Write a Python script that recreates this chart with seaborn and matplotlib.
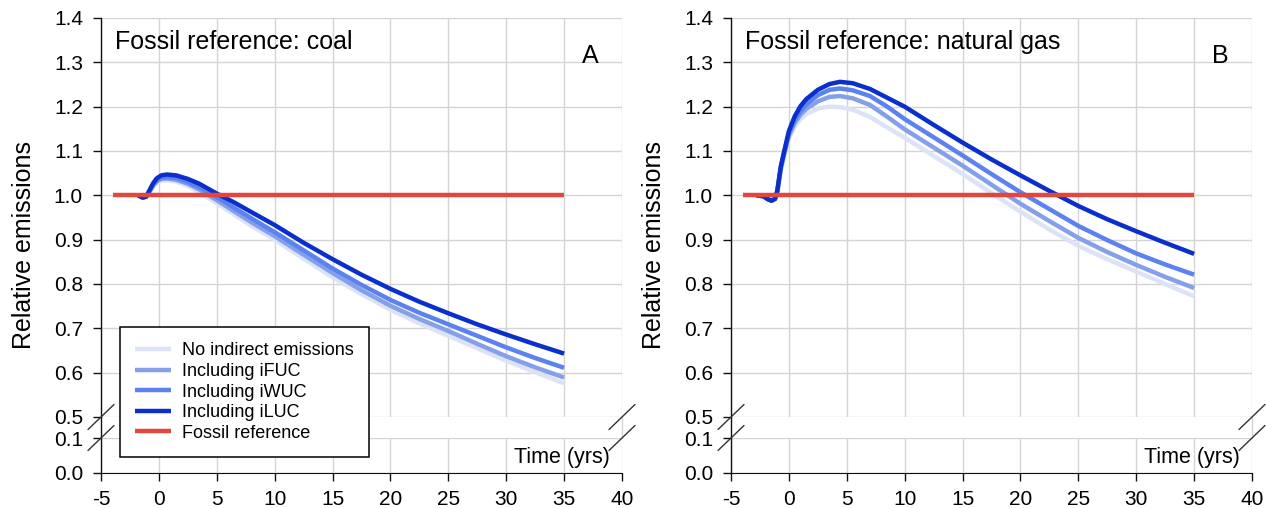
import numpy as np
import pandas as pd
import matplotlib
matplotlib.use("Agg")
import matplotlib.pyplot as plt
from matplotlib.lines import Line2D
import seaborn as sns

# ---------------------------------------------------------------- data
series_order = ["No indirect emissions", "Including iFUC", "Including iWUC",
                "Including iLUC", "Fossil reference"]

# Panel A: coal as the fossil reference
years_coal = [-1.8, -1.4, -1.1, -0.8, -0.5, -0.2, 0.2, 0.7, 1.5, 2.5, 3.5, 5,
              6.5, 8, 10, 12.5, 15, 17.5, 20, 22.5, 25, 27.5, 30, 32.5, 35]
coal_none = [1.000, 0.995, 0.997, 1.008, 1.020, 1.028, 1.033, 1.034, 1.031,
             1.021, 1.007, 0.982, 0.957, 0.931, 0.900, 0.857, 0.815, 0.777,
             0.742, 0.711, 0.683, 0.655, 0.627, 0.601, 0.576]
coal_ifuc = [1.000, 0.995, 0.997, 1.009, 1.022, 1.031, 1.037, 1.038, 1.035,
             1.026, 1.013, 0.989, 0.964, 0.939, 0.908, 0.866, 0.825, 0.786,
             0.751, 0.721, 0.694, 0.665, 0.637, 0.612, 0.589]
coal_iwuc = [1.000, 0.995, 0.997, 1.010, 1.024, 1.034, 1.040, 1.041, 1.039,
             1.030, 1.018, 0.996, 0.972, 0.948, 0.917, 0.876, 0.835, 0.798,
             0.764, 0.735, 0.709, 0.683, 0.657, 0.633, 0.611]
coal_iluc = [1.000, 0.995, 0.997, 1.012, 1.027, 1.038, 1.045, 1.047, 1.045,
             1.037, 1.026, 1.004, 0.984, 0.962, 0.933, 0.893, 0.856, 0.821,
             0.789, 0.760, 0.734, 0.709, 0.686, 0.664, 0.643]

# Panel B: natural gas as the fossil reference
years_gas = [-2.8, -2.2, -1.8, -1.5, -1.2, -1.0, -0.7, -0.4, 0, 0.5, 1, 1.5,
             2.5, 3.5, 4.4, 5.5, 7, 8.5, 10, 12.5, 15, 17.5, 20, 22.5, 25,
             27.5, 30, 32.5, 35]
gas_none = [1.000, 0.998, 0.991, 0.988, 0.992, 1.008, 1.055, 1.090, 1.128,
            1.155, 1.172, 1.183, 1.196, 1.200, 1.199, 1.193, 1.177, 1.153,
            1.130, 1.089, 1.048, 1.005, 0.963, 0.923, 0.886, 0.856, 0.828,
            0.800, 0.772]
gas_ifuc = [1.000, 0.998, 0.991, 0.988, 0.992, 1.009, 1.060, 1.094, 1.135,
            1.163, 1.182, 1.195, 1.212, 1.222, 1.224, 1.219, 1.204, 1.177,
            1.149, 1.108, 1.067, 1.024, 0.981, 0.942, 0.904, 0.872, 0.843,
            0.816, 0.791]
gas_iwuc = [1.000, 0.998, 0.991, 0.988, 0.992, 1.010, 1.063, 1.097, 1.140,
            1.170, 1.190, 1.205, 1.226, 1.238, 1.241, 1.237, 1.224, 1.200,
            1.172, 1.131, 1.090, 1.048, 1.007, 0.969, 0.931, 0.899, 0.869,
            0.844, 0.821]
gas_iluc = [1.000, 0.998, 0.991, 0.988, 0.992, 1.010, 1.065, 1.100, 1.145,
            1.178, 1.201, 1.217, 1.238, 1.251, 1.256, 1.253, 1.240, 1.220,
            1.200, 1.159, 1.119, 1.081, 1.045, 1.010, 0.976, 0.946, 0.919,
            0.893, 0.868]

fossil_years = [-4, 35]
fossil_level = [1.0, 1.0]

x_ticks = list(range(-5, 41, 5))
y_ticks_upper = [0.5, 0.6, 0.7, 0.8, 0.9, 1.0, 1.1, 1.2, 1.3, 1.4]
y_ticks_lower = [0.0, 0.1]

palette = {
    "No indirect emissions": "#dde3f7",
    "Including iFUC": "#84a0ea",
    "Including iWUC": "#5b82ee",
    "Including iLUC": "#0a2fcc",
    "Fossil reference": "#e2463c",
}


def build_frame(years, curves):
    rows = []
    for name, values in zip(series_order[:4], curves):
        for x, y in zip(years, values):
            rows.append({"year": x, "value": y, "series": name})
    for x, y in zip(fossil_years, fossil_level):
        rows.append({"year": x, "value": y, "series": series_order[4]})
    return pd.DataFrame(rows)


frame_coal = build_frame(years_coal, [coal_none, coal_ifuc, coal_iwuc, coal_iluc])
frame_gas = build_frame(years_gas, [gas_none, gas_ifuc, gas_iwuc, gas_iluc])

# ---------------------------------------------------------------- style
sns.set_style("white")
plt.rcParams["font.family"] = ["Liberation Sans", "DejaVu Sans"]
plt.rcParams["text.color"] = "black"
plt.rcParams["axes.labelcolor"] = "black"
plt.rcParams["xtick.color"] = "black"
plt.rcParams["ytick.color"] = "black"

W, H = 1266, 508
fig = plt.figure(figsize=(W / 100, H / 100), dpi=100)

grid_color = "#d4d4d4"
axis_color = "#111111"


def px_rect(left, right, top, bottom):
    return [left / W, 1 - bottom / H, (right - left) / W, (bottom - top) / H]


def break_mark(xc, yc):
    dx, dy = 13 / W, 12.5 / H
    fig.add_artist(Line2D([xc - dx, xc + dx], [yc - dy, yc + dy],
                          transform=fig.transFigure, color="#333333", lw=1))


def draw_panel(left, title, letter, frame, show_legend):
    right = left + 521
    ax_top = fig.add_axes(px_rect(left, right, 18, 417))
    ax_bot = fig.add_axes(px_rect(left, right, 438, 473))

    sns.lineplot(data=frame, x="year", y="value", hue="series",
                 hue_order=series_order, palette=palette, sort=False,
                 estimator=None, linewidth=3.2, ax=ax_top, legend=show_legend,
                 solid_capstyle="butt", solid_joinstyle="round")
    for line in ax_top.get_lines():
        if line.get_label() == "Fossil reference":
            line.set_linewidth(3.6)

    for ax in (ax_top, ax_bot):
        ax.set_xlim(-5, 40)
        ax.set_xticks(x_ticks)
        ax.grid(True, color=grid_color, lw=1)
        ax.set_axisbelow(True)
        ax.set_xlabel("")
        ax.set_ylabel("")
        for side in ("top", "right"):
            ax.spines[side].set_visible(False)
        ax.spines["left"].set_color(axis_color)
        ax.spines["left"].set_linewidth(1)
        ax.tick_params(axis="y", direction="out", length=6, width=1,
                       color=axis_color, labelcolor="black", labelsize=15,
                       pad=7, left=True)

    ax_top.set_ylim(0.5, 1.4)
    ax_top.set_yticks(y_ticks_upper)
    ax_top.set_yticklabels([f"{v:.1f}" for v in y_ticks_upper])
    ax_top.spines["bottom"].set_visible(False)
    ax_top.tick_params(axis="x", length=0, labelbottom=False)

    ax_bot.set_ylim(0.0, 0.1)
    ax_bot.set_yticks(y_ticks_lower)
    ax_bot.set_yticklabels([f"{v:.1f}" for v in y_ticks_lower])
    ax_bot.spines["bottom"].set_color(axis_color)
    ax_bot.tick_params(axis="x", direction="out", length=6, width=1,
                       color=axis_color, labelcolor="black", labelsize=15,
                       pad=6, bottom=True)
    ax_bot.set_xticklabels([str(v) for v in x_ticks])

    ax_top.text(0.027, 0.94, title, transform=ax_top.transAxes,
                fontsize=18, ha="left", va="center", color="black")
    ax_top.text(0.94, 0.905, letter, transform=ax_top.transAxes,
                fontsize=18, ha="center", va="center", color="black")
    ax_bot.text(0.977, 0.43, "Time (yrs)", transform=ax_bot.transAxes,
                fontsize=15.5, ha="right", va="center", color="black")

    # axis lines bridging the break, and the break marks
    p_top = ax_top.get_position()
    p_bot = ax_bot.get_position()
    fig.add_artist(Line2D([p_top.x0, p_top.x0], [p_bot.y1, p_top.y0],
                          transform=fig.transFigure, color=axis_color, lw=1))
    fig.add_artist(Line2D([p_top.x1, p_top.x1], [p_bot.y1, p_top.y0],
                          transform=fig.transFigure, color=grid_color, lw=1))
    for xc in (p_top.x0, p_top.x1):
        break_mark(xc, p_top.y0)
        break_mark(xc, p_bot.y1)

    fig.text((left - 77) / W, 1 - 245 / H, "Relative emissions", rotation=90,
             ha="center", va="center", fontsize=18, color="black")
    return ax_top, ax_bot


ax_a, _ = draw_panel(101, "Fossil reference: coal", "A", frame_coal, True)
draw_panel(731, "Fossil reference: natural gas", "B", frame_gas, False)

handles, labels = ax_a.get_legend_handles_labels()
if ax_a.get_legend() is not None:
    ax_a.get_legend().remove()
leg = fig.legend(handles, labels, loc="upper left",
                 bbox_to_anchor=(120 / W, 1 - 327 / H), frameon=True,
                 fancybox=False, edgecolor="black", framealpha=1,
                 fontsize=13, handlelength=2.0, handletextpad=0.6,
                 labelspacing=0.2, borderpad=0.85, borderaxespad=0)
leg.get_frame().set_linewidth(1.1)
for h in leg.get_lines():
    h.set_linewidth(3.2)
for t in leg.get_texts():
    t.set_color("black")

fig.savefig("out.png", dpi=100)
